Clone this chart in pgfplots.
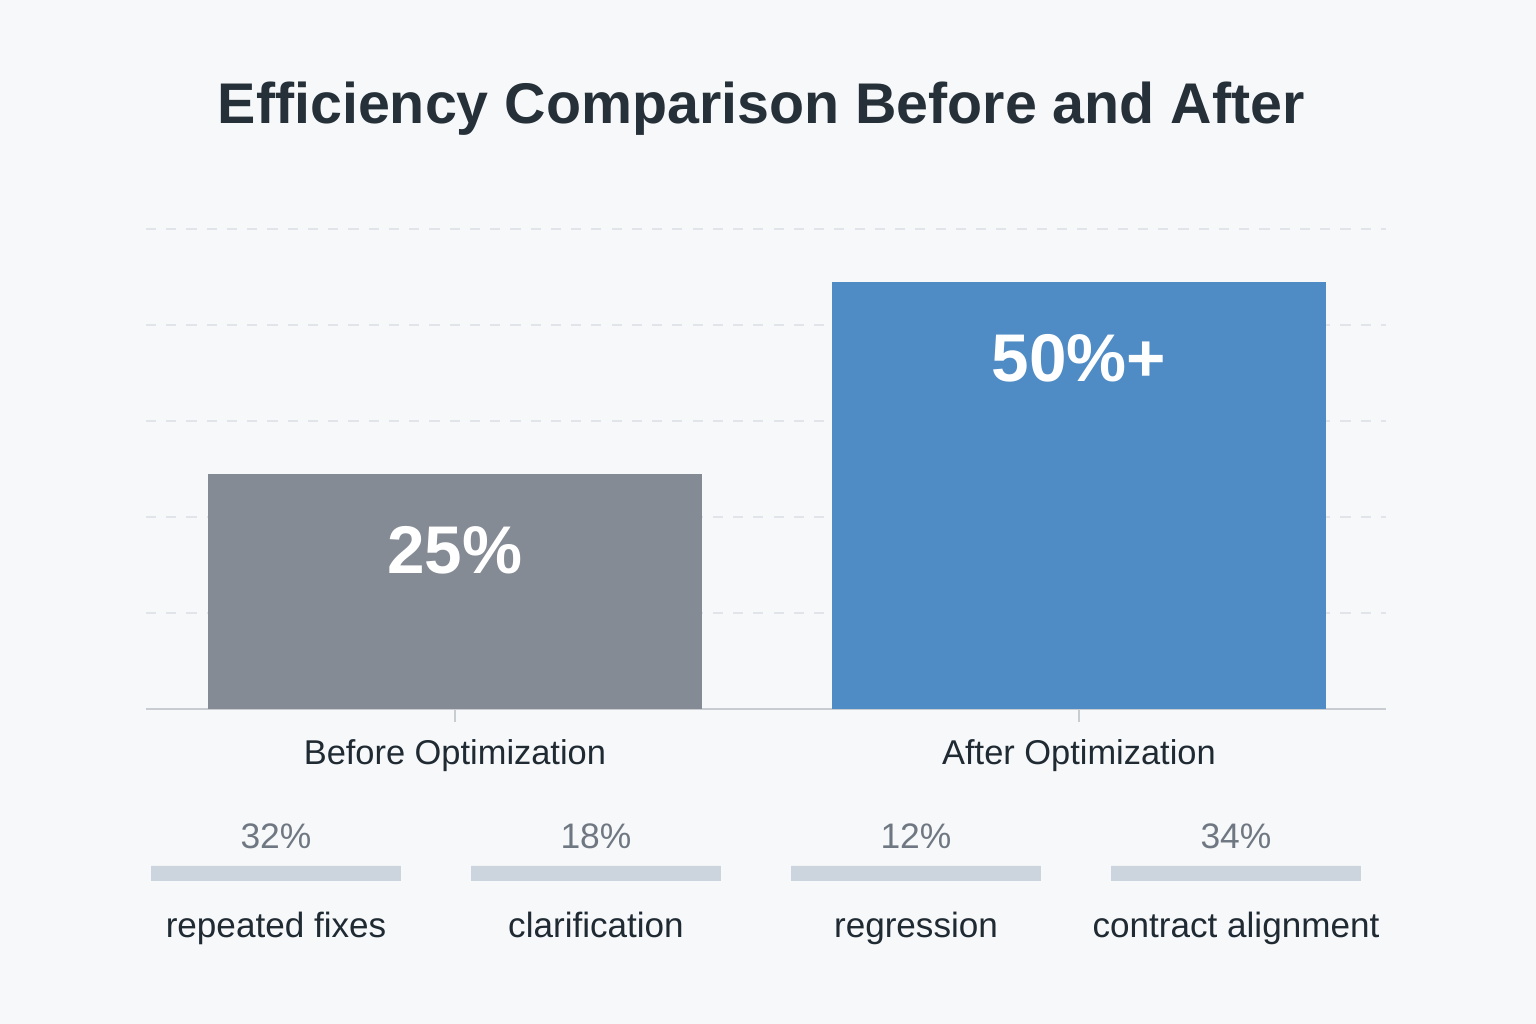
\documentclass[border=0pt]{standalone}
\usepackage{pgfplots}
\pgfplotsset{compat=1.18}
\usepackage{pgfplotstable}
\usepackage{fontspec}
\setmainfont{Liberation Sans}

\definecolor{bg}{HTML}{F7F8F9}
\definecolor{titlec}{HTML}{253039}
\definecolor{textc}{HTML}{1F2A33}
\definecolor{subc}{HTML}{6F7882}
\definecolor{beforec}{HTML}{848B95}
\definecolor{afterc}{HTML}{4F8BC4}
\definecolor{gridc}{HTML}{E1E4E8}
\definecolor{basec}{HTML}{C9CDD2}
\definecolor{smallbar}{HTML}{CCD4DD}

% main comparison, one table per bar
\pgfplotstableread{
x val
0 24.5
}\before
\pgfplotstableread{
x val
1 44.5
}\after

% breakdown strip (same length bars, percentages as labels)
\pgfplotstableread{
x val lab
0 1 32\%
1 1 18\%
2 1 12\%
3 1 34\%
}\breakdown

\begin{document}
\begin{tikzpicture}
\fill[bg] (0,0) rectangle (16cm,10.6667cm);
\useasboundingbox (0,0) rectangle (16cm,10.6667cm);

\node[font=\fontsize{17}{20}\selectfont\bfseries, text=titlec] at (7.93cm,9.53cm)
  {Efficiency Comparison Before and After};

\begin{axis}[
  at={(1.5208cm,3.2813cm)}, anchor=south west,
  scale only axis,
  width=12.9167cm, height=5cm,
  xmin=-0.495, xmax=1.492,
  ymin=0, ymax=50,
  ybar, bar width=5.146cm,
  axis x line*=bottom,
  axis y line*=left,
  x axis line style={-, draw=basec, line width=0.8pt},
  y axis line style={draw=none},
  xtick={0,1},
  xticklabels={Before Optimization, After Optimization},
  xticklabel style={font=\fontsize{10.2}{12}\selectfont, text=textc, yshift=-0.06cm},
  tick align=outside,
  major tick length=0.135cm,
  x tick style={draw=basec, line width=0.8pt},
  ytick={10,20,30,40,50},
  yticklabels={},
  y tick style={draw=none},
  ymajorgrids,
  y grid style={gridc, dashed, line width=0.6pt},
  clip=false,
]
\addplot[fill=beforec, draw=none, bar shift=0pt] table[x=x, y=val] {\before};
\addplot[fill=afterc, draw=none, bar shift=0pt] table[x=x, y=val] {\after};
\node[font=\fontsize{20}{24}\selectfont\bfseries, text=white] at (axis cs:0,16.56) {25\%};
\node[font=\fontsize{20}{24}\selectfont\bfseries, text=white] at (axis cs:1,36.56) {50\%+};
\end{axis}

\begin{axis}[
  at={(1.2083cm,1.4896cm)}, anchor=south west,
  scale only axis,
  width=13.3333cm, height=0.15625cm,
  xmin=-0.5, xmax=3.5,
  ymin=0, ymax=1,
  ybar, bar width=2.604cm,
  axis line style={draw=none},
  ytick=\empty,
  xtick={0,1,2,3},
  xticklabels={repeated fixes, clarification, regression, contract alignment},
  xticklabel style={font=\fontsize{10.4}{13}\selectfont, text=textc, yshift=-0.2cm},
  major tick length=0pt,
  nodes near coords,
  point meta=explicit symbolic,
  nodes near coords style={font=\fontsize{10.5}{13}\selectfont, text=subc, anchor=center, yshift=0.31cm},
  clip=false,
]
\addplot[fill=smallbar, draw=none] table[x=x, y=val, meta=lab] {\breakdown};
\end{axis}
\end{tikzpicture}
\end{document}
